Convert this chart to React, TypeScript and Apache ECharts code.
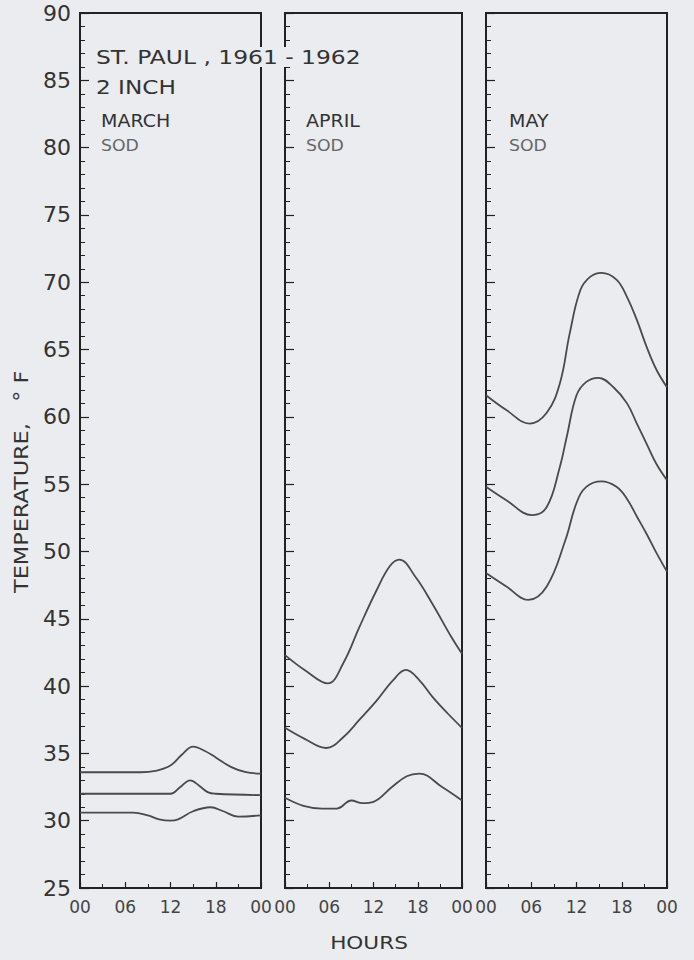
import React, { useEffect, useRef } from "react";
import * as echarts from "echarts";

// ---- data (hour of day, temperature °F) ----
const hourTicks = [0, 6, 12, 18, 24];
const hourLabels = ["00", "06", "12", "18", "00"];
const tempMin = 25;
const tempMax = 90;

const marchUpper: [number, number][] = [[0, 33.6], [4, 33.6], [8, 33.6], [10, 33.7], [12, 34.1], [13.5, 34.9], [15, 35.5], [16.5, 35.2], [18, 34.7], [20, 34.0], [22, 33.6], [24, 33.5]];
const marchMiddle: [number, number][] = [[0, 32.0], [6, 32.0], [12, 32.0], [13.3, 32.5], [14.6, 33.0], [15.8, 32.6], [17, 32.1], [18, 32.0], [24, 31.9]];
const marchLower: [number, number][] = [[0, 30.6], [4, 30.6], [7, 30.6], [9, 30.4], [10.5, 30.1], [12, 30.0], [13, 30.1], [15, 30.7], [17.3, 31.0], [19, 30.7], [21, 30.3], [24, 30.4]];

const aprilUpper: [number, number][] = [[0, 42.3], [2.9, 41.1], [5.8, 40.2], [7.9, 41.7], [10.1, 44.4], [12.4, 47.1], [14.2, 48.9], [15.5, 49.4], [17.7, 48.1], [20, 46.1], [22.5, 43.7], [24, 42.4]];
const aprilMiddle: [number, number][] = [[0, 36.9], [2.6, 36.1], [5.6, 35.4], [7.9, 36.2], [10.1, 37.5], [12.4, 38.9], [14.6, 40.4], [16.4, 41.2], [18.2, 40.45], [20, 39.2], [22, 38.0], [24, 36.9]];
const aprilLower: [number, number][] = [[0, 31.7], [2.5, 31.1], [5, 30.9], [7, 30.9], [9, 31.5], [10.5, 31.3], [12, 31.4], [14.5, 32.5], [16.5, 33.3], [18.2, 33.5], [21.3, 32.5], [24, 31.5]];

const mayUpper: [number, number][] = [[0, 61.6], [2.7, 60.5], [5.8, 59.5], [8.05, 60.3], [9.8, 62.5], [11.1, 66.2], [12.5, 69.4], [13.8, 70.4], [15.3, 70.7], [17.3, 70.2], [18.7, 68.9], [20, 67.2], [21.3, 65.2], [22.6, 63.5], [24, 62.2]];
const mayMiddle: [number, number][] = [[0, 54.8], [2.7, 53.8], [6.1, 52.7], [8.05, 53.3], [9.8, 56.3], [10.7, 58.5], [12, 61.6], [13.3, 62.6], [14.9, 62.9], [16.9, 62.2], [18.7, 61.0], [20, 59.5], [21.3, 58.0], [22.6, 56.5], [24, 55.3]];
const mayLower: [number, number][] = [[0, 48.4], [2.7, 47.4], [5.6, 46.4], [8.05, 47.4], [10.5, 50.8], [12, 53.6], [13.3, 54.8], [15.3, 55.2], [17.3, 54.8], [18.7, 53.9], [20, 52.6], [21.3, 51.3], [22.6, 49.9], [24, 48.5]];

const panels = [
  { month: "MARCH", surface: "SOD", series: [marchUpper, marchMiddle, marchLower] },
  { month: "APRIL", surface: "SOD", series: [aprilUpper, aprilMiddle, aprilLower] },
  { month: "MAY", surface: "SOD", series: [mayUpper, mayMiddle, mayLower] },
];

const titleLine1 = "ST. PAUL , 1961 - 1962";
const titleLine2 = "2 INCH";
const yAxisTitle = "TEMPERATURE,   ° F";
const xAxisTitle = "HOURS";

// ---- style ----
const BG = "#eaecf0";
const INK = "#222";
const CURVE = "#4a4a4a";
const FONT = "DejaVu Sans";
const gridBoxes = [
  { left: 80, width: 181 },
  { left: 285, width: 177 },
  { left: 486, width: 181 },
];
const GRID_TOP = 13;
const GRID_HEIGHT = 875;
const monthX = [101, 306, 509];

export default function App() {
  const ref = useRef<HTMLDivElement>(null);
  useEffect(() => {
    if (!ref.current) return;
    const chart = echarts.init(ref.current, null, { renderer: "svg" });
    const grids = gridBoxes.map((g) => ({
      left: g.left,
      top: GRID_TOP,
      width: g.width,
      height: GRID_HEIGHT,
      show: true,
      borderColor: INK,
      borderWidth: 2,
      backgroundColor: "transparent",
    }));
    const xAxes = gridBoxes.map((_, i) => ({
      type: "value",
      gridIndex: i,
      min: hourTicks[0],
      max: hourTicks[hourTicks.length - 1],
      interval: 6,
      axisLine: { show: true, lineStyle: { color: INK, width: 2 } },
      axisTick: { show: true, inside: true, length: 6, lineStyle: { color: INK, width: 1.2 } },
      minorTick: { show: true, splitNumber: 2, length: 4, lineStyle: { color: INK, width: 1 } },
      splitLine: { show: false },
      axisLabel: {
        show: true,
        margin: 10,
        fontSize: 17,
        fontFamily: FONT,
        color: "#444",
        formatter: (v: number) => hourLabels[hourTicks.indexOf(v)] ?? "",
      },
    }));
    const yAxes = gridBoxes.map((_, i) => ({
      type: "value",
      gridIndex: i,
      min: tempMin,
      max: tempMax,
      interval: 5,
      axisLine: { show: true, lineStyle: { color: INK, width: 2 } },
      axisTick: { show: true, inside: true, length: 9, lineStyle: { color: INK, width: 1.2 } },
      minorTick: { show: true, splitNumber: 5, length: 5, lineStyle: { color: INK, width: 1 } },
      splitLine: { show: false },
      axisLabel: {
        show: i === 0,
        margin: 9,
        fontSize: 22,
        fontFamily: FONT,
        color: "#333",
      },
    }));
    const series: any[] = [];
    panels.forEach((p, i) => {
      p.series.forEach((data) => {
        series.push({
          type: "line",
          xAxisIndex: i,
          yAxisIndex: i,
          data,
          smooth: 0.4,
          showSymbol: false,
          lineStyle: { color: CURVE, width: 1.8 },
        });
      });
    });
    const graphic: any[] = [
      {
        type: "text",
        x: 96,
        y: 57,
        z: 100,
        scaleX: 1.17,
        style: {
          text: titleLine1,
          fontSize: 20,
          fontFamily: FONT,
          fill: "#333",
          textVerticalAlign: "middle",
          backgroundColor: BG,
        },
      },
      {
        type: "text",
        x: 96,
        y: 87,
        z: 100,
        scaleX: 1.16,
        style: { text: titleLine2, fontSize: 20, fontFamily: FONT, fill: "#333", textVerticalAlign: "middle" },
      },
      {
        type: "text",
        x: 21,
        y: 593,
        rotation: Math.PI / 2,
        scaleX: 1.12,
        style: {
          text: yAxisTitle,
          fontSize: 20,
          fontFamily: FONT,
          fill: "#333",
          textAlign: "left",
          textVerticalAlign: "middle",
        },
      },
      {
        type: "text",
        x: 369,
        y: 943,
        scaleX: 1.2,
        style: {
          text: xAxisTitle,
          fontSize: 18,
          fontFamily: FONT,
          fill: "#333",
          textAlign: "center",
          textVerticalAlign: "middle",
        },
      },
    ];
    panels.forEach((p, i) => {
      graphic.push({
        type: "text",
        x: monthX[i],
        y: 121,
        scaleX: 1.12,
        style: { text: p.month, fontSize: 17, fontFamily: FONT, fill: "#333", textVerticalAlign: "middle" },
      });
      graphic.push({
        type: "text",
        x: monthX[i],
        y: 146,
        scaleX: 1.08,
        style: { text: p.surface, fontSize: 16, fontFamily: FONT, fill: "#666", textVerticalAlign: "middle" },
      });
    });
    chart.setOption({
      animation: false,
      backgroundColor: BG,
      grid: grids,
      xAxis: xAxes,
      yAxis: yAxes,
      series,
      graphic,
    });
    return () => chart.dispose();
  }, []);
  return (
    <div
      ref={ref}
      style={{ position: "fixed", left: 0, top: 0, width: 694, height: 960 }}
    />
  );
}
